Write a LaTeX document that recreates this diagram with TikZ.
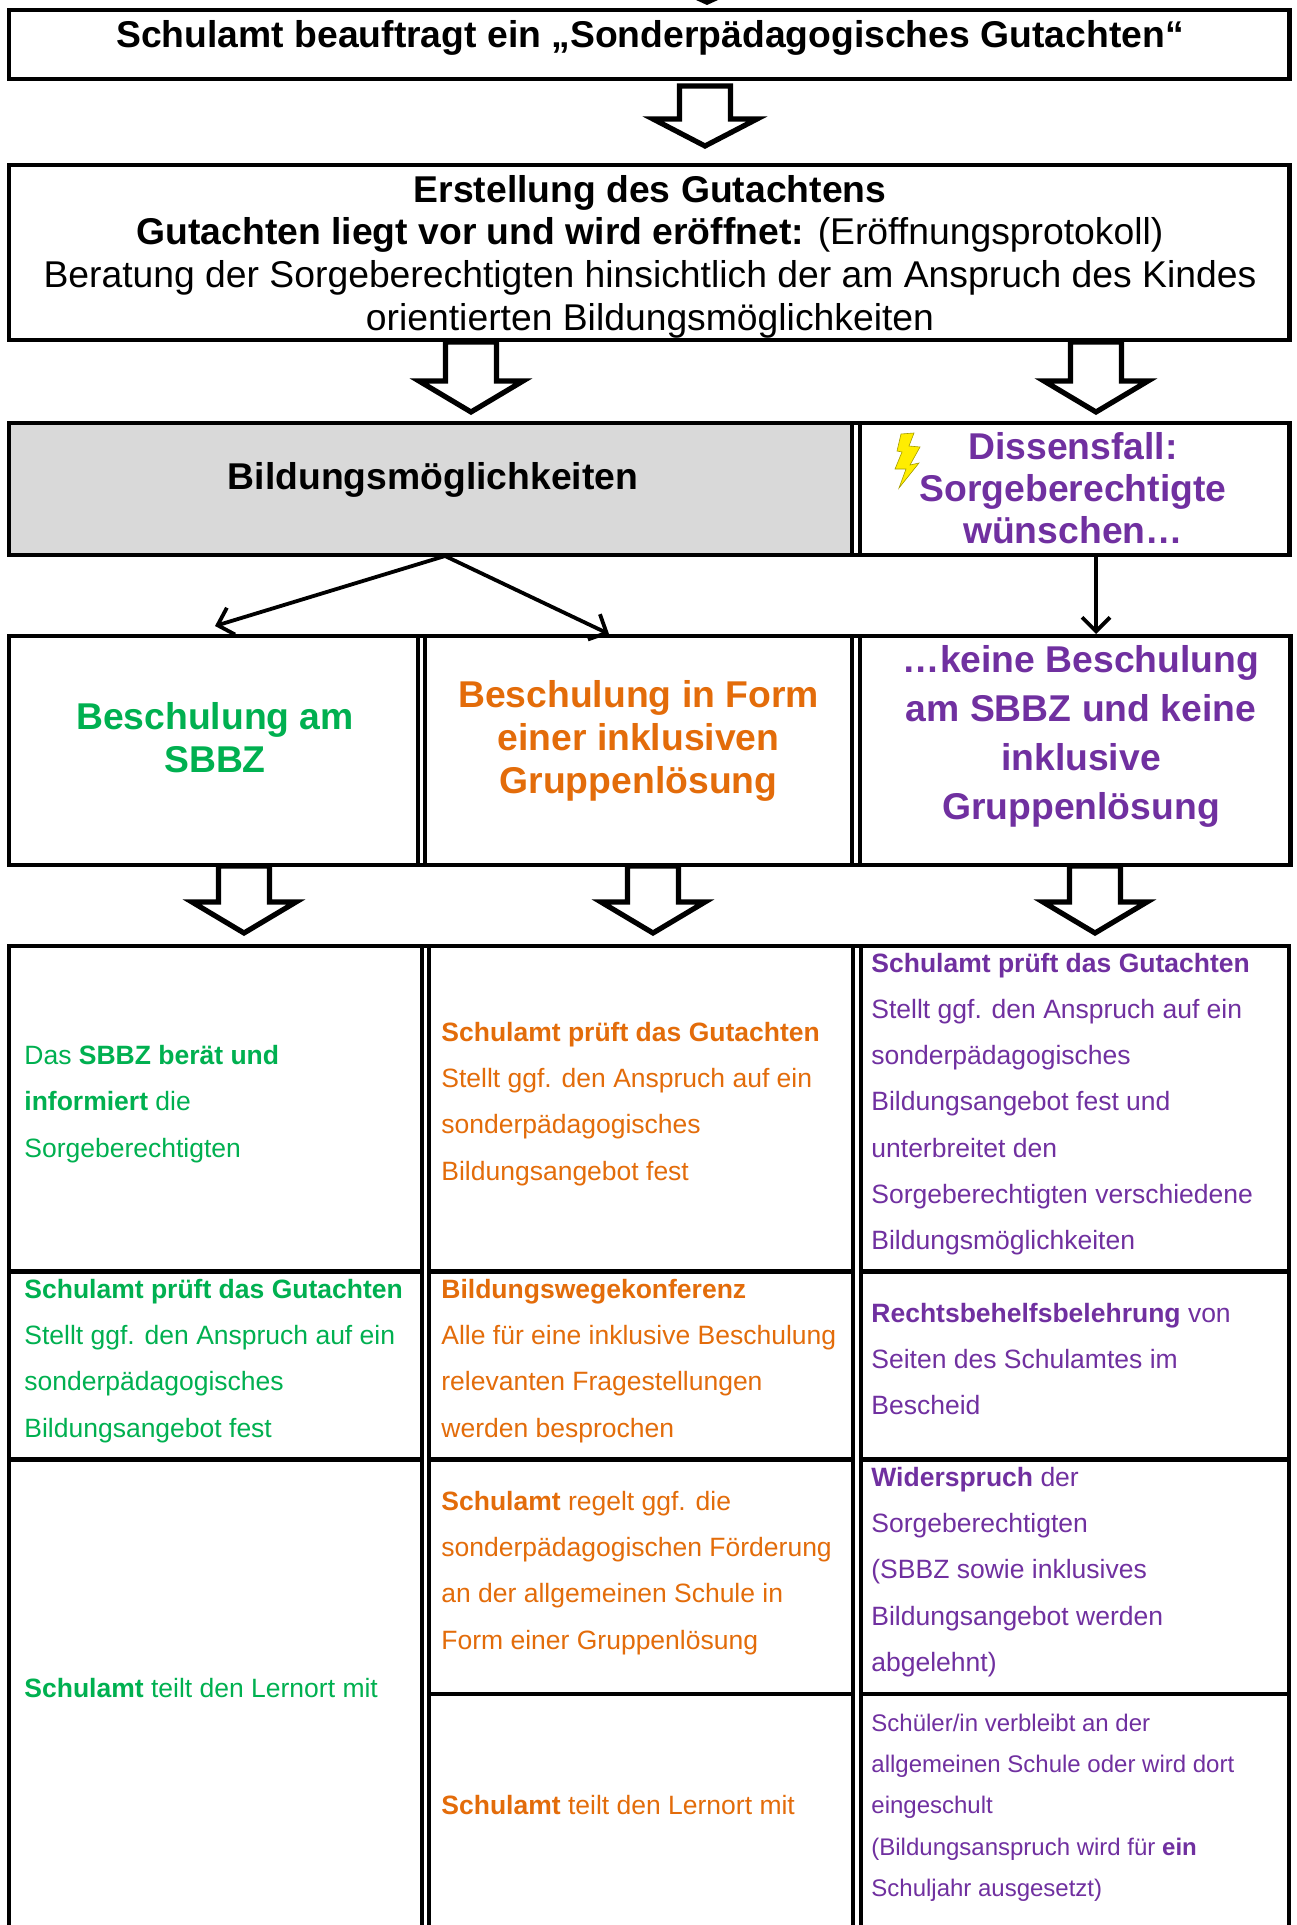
\documentclass[tikz,border=0pt]{standalone}
\usepackage{fontspec}
\setmainfont{Liberation Sans}
\usetikzlibrary{arrows.meta}
\definecolor{cgreen}{HTML}{00B050}
\definecolor{corange}{HTML}{E36C0A}
\definecolor{cpurple}{HTML}{7030A0}
\definecolor{cgray}{HTML}{D9D9D9}
\tikzset{
  x=0.5pt,y=-0.5pt,
  boxline/.style={draw=black,line width=2.4pt,miter limit=20},
  gridline/.style={draw=black,line width=2.1pt},
  hollow/.style={draw=black,fill=white,line width=2.6pt,miter limit=20},
  thin arrow/.style={draw=black,line width=1.9pt,-{Straight Barb[length=7pt,width=14pt,line width=1.9pt]}},
  headline/.style={font=\bfseries\fontsize{18.65}{21}\selectfont,align=center},
  plainhead/.style={font=\fontsize{18.65}{21.3}\selectfont,align=center},
  colhead/.style={font=\bfseries\fontsize{18.65}{21.5}\selectfont,align=center},
  cell/.style={font=\fontsize{13.25}{23.1}\selectfont,align=left,anchor=west,inner sep=0pt},
  smallcell/.style={font=\fontsize{12}{20.65}\selectfont,align=left,anchor=west,inner sep=0pt},
}
\newcommand{\bigarrow}[4]{% centre x, top y, wing y, tip y
  \draw[hollow] (#1-25.5,#2) -- (#1+25.5,#2) -- (#1+25.5,#3) -- (#1+52,#3) -- (#1,#4) -- (#1-52,#3) -- (#1-25.5,#3) -- cycle;
}
\begin{document}
\begin{tikzpicture}
\useasboundingbox (0,0) rectangle (1296,1925);
\fill[white] (0,0) rectangle (1296,1925);
% top tip
\fill[black] (696,0) -- (718,0) -- (707,5) -- cycle;
% Box 1
\draw[boxline] (9,10) rectangle (1289.5,79);
\node[headline] (t1) at (650,37.5) {Schulamt beauftragt ein „Sonderpädagogisches Gutachten“};
\bigarrow{705}{86}{119}{146}
% Box 2
\draw[boxline] (9,165) rectangle (1289.5,340);
\node[plainhead] (t2) at (650,256.5) {\textbf{Erstellung des Gutachtens}\\\textbf{Gutachten liegt vor und wird eröffnet:} (Eröffnungsprotokoll)\\Beratung der Sorgeberechtigten hinsichtlich der am Anspruch des Kindes\\orientierten Bildungsmöglichkeiten};
\bigarrow{471}{342}{381}{412}
\bigarrow{1096}{342}{381}{412}
% Box 3
\fill[cgray] (9,423) rectangle (852,555);
\draw[boxline] (9,423) rectangle (1289.5,555);
\draw[gridline] (852,423) -- (852,555);
\draw[gridline] (860,423) -- (860,555);
\node[headline] (t3) at (433,480) {Bildungsmöglichkeiten};
\node[headline,text=cpurple] (t4) at (1073,488.5) {Dissensfall:\\Sorgeberechtigte\\wünschen…};
\fill[yellow!95!orange,draw=olive!80!yellow,line width=0.3pt] (901,434) -- (914,433) -- (909,446) -- (920,447) -- (910,465) -- (919,463) -- (899,488) -- (906,469) -- (895,469) -- (902,452) -- (897,451) -- cycle;
% Box 4
\draw[boxline] (9,636) rectangle (1290.5,865);
\foreach \x in {418,425,852,860} \draw[gridline] (\x,636) -- (\x,865);
\node[colhead,text=cgreen] (h1) at (215,738) {Beschulung am\\SBBZ};
\node[colhead,text=corange] (h2) at (638.5,740.5) {Beschulung in Form\\einer inklusiven\\Gruppenlösung};
\node[colhead,text=cpurple,font=\bfseries\fontsize{18.65}{24.6}\selectfont] (h3) at (1081,736.5) {…keine Beschulung\\am SBBZ und keine\\inklusive\\Gruppenlösung};
% connectors
\coordinate (apex) at (445,556);
\coordinate (bleft) at (215,626);
\coordinate (bmid) at (609,634);
\coordinate (dtop) at (1096,556);
\coordinate (dbot) at (1096,634);
\draw[thin arrow] (apex) -- (bleft);
\draw[thin arrow] (apex) -- (bmid);
\draw[thin arrow] (dtop) -- (dbot);
\bigarrow{244}{866}{902}{933}
\bigarrow{653}{866}{902}{933}
\bigarrow{1095}{866}{902}{933}
% Grid
\draw[gridline] (9,1925) -- (9,946) -- (1289,946) -- (1289,1925);
\foreach \x in {422,429,853,861} \draw[gridline] (\x,946) -- (\x,1925);
\draw[gridline] (9,1271.5) -- (422,1271.5) (429,1271.5) -- (853,1271.5) (861,1271.5) -- (1289,1271.5);
\draw[gridline] (9,1459.5) -- (422,1459.5) (429,1459.5) -- (853,1459.5) (861,1459.5) -- (1289,1459.5);
\draw[gridline] (429,1694) -- (853,1694) (861,1694) -- (1289,1694);
\node[cell,text=cgreen] (c11) at (24,1104) {Das \textbf{SBBZ berät und}\\\textbf{informiert} die\\Sorgeberechtigten};
\node[cell,text=cgreen] (c12) at (24,1361) {\textbf{Schulamt prüft das Gutachten}\\Stellt ggf. den Anspruch auf ein\\sonderpädagogisches\\Bildungsangebot fest};
\node[cell,text=cgreen] (c13) at (24,1688) {\textbf{Schulamt} teilt den Lernort mit};
\node[cell,text=corange] (c21) at (441,1104) {\textbf{Schulamt prüft das Gutachten}\\Stellt ggf. den Anspruch auf ein\\sonderpädagogisches\\Bildungsangebot fest};
\node[cell,text=corange] (c22) at (441,1361) {\textbf{Bildungswegekonferenz}\\Alle für eine inklusive Beschulung\\relevanten Fragestellungen\\werden besprochen};
\node[cell,text=corange] (c23) at (441,1573) {\textbf{Schulamt} regelt ggf. die\\sonderpädagogischen Förderung\\an der allgemeinen Schule in\\Form einer Gruppenlösung};
\node[cell,text=corange] (c24) at (441,1805) {\textbf{Schulamt} teilt den Lernort mit};
\node[cell,text=cpurple] (c31) at (871,1104) {\textbf{Schulamt prüft das Gutachten}\\Stellt ggf. den Anspruch auf ein\\sonderpädagogisches\\Bildungsangebot fest und\\unterbreitet den\\Sorgeberechtigten verschiedene\\Bildungsmöglichkeiten};
\node[cell,text=cpurple] (c32) at (871,1359) {\textbf{Rechtsbehelfsbelehrung} von\\Seiten des Schulamtes im\\Bescheid};
\node[cell,text=cpurple] (c33) at (871,1572) {\textbf{Widerspruch} der\\Sorgeberechtigten\\(SBBZ sowie inklusives\\Bildungsangebot werden\\abgelehnt)};
\node[smallcell,text=cpurple] (c34) at (871,1807.5) {Schüler/in verbleibt an der\\allgemeinen Schule oder wird dort\\eingeschult\\(Bildungsanspruch wird für \textbf{ein}\\Schuljahr ausgesetzt)};
\end{tikzpicture}
\end{document}
